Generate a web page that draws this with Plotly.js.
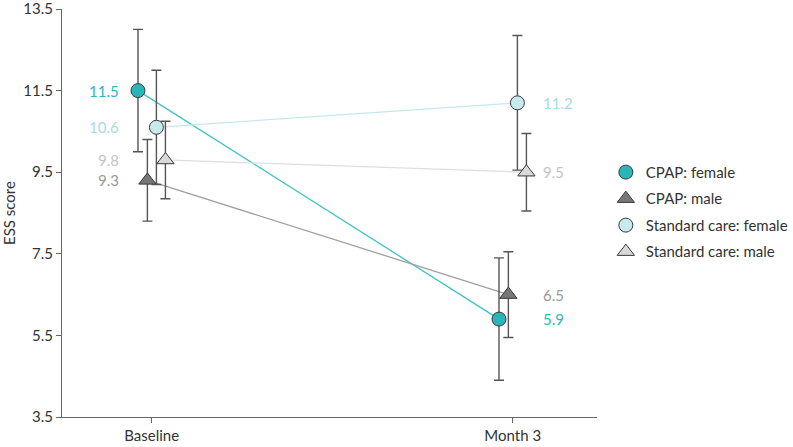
<!DOCTYPE html>
<html>
<head>
<meta charset="utf-8">
<script src="https://cdn.plot.ly/plotly-3.0.1.min.js"></script>
<style>html,body{margin:0;padding:0;background:#fff;}#chart{width:793px;height:447px;}</style>
</head>
<body>
<div id="chart"></div>
<script>
// ---- data ----
const categories = ['Baseline', 'Month 3'];
const groupNames = ['CPAP: female', 'CPAP: male', 'Standard care: female', 'Standard care: male'];
const cpapFemale = [11.5, 5.9];
const cpapFemaleErr = [1.5, 1.5];
const cpapMale = [9.3, 6.5];
const cpapMaleErr = [1.0, 1.05];
const stdFemale = [10.6, 11.2];
const stdFemaleErr = [1.4, 1.65];
const stdMale = [9.8, 9.5];
const stdMaleErr = [0.95, 0.95];
const yTicks = [3.5, 5.5, 7.5, 9.5, 11.5, 13.5];

// ---- styles ----
const series = [
  {name: groupNames[0], y: cpapFemale, err: cpapFemaleErr, symbol: 'circle', size: 14, fill: '#2ab5bb', line: '#3ec2c7', text: '#2ab7bf', off: -0.038},
  {name: groupNames[1], y: cpapMale, err: cpapMaleErr, symbol: 'triangle-up', size: 15, fill: '#77777b', line: '#a0a0a0', text: '#9a9a9a', off: -0.012},
  {name: groupNames[2], y: stdFemale, err: stdFemaleErr, symbol: 'circle', size: 14, fill: '#c8e9ee', line: '#c6e8ed', text: '#a6dce3', off: 0.013},
  {name: groupNames[3], y: stdMale, err: stdMaleErr, symbol: 'triangle-up', size: 15, fill: '#d9d9d9', line: '#dedede', text: '#c4c4c4', off: 0.038}
];
const FONT = 'Lato, Noto Sans, sans-serif';

const traces = [];
series.forEach(s => {
  const xs = categories.map((c, i) => i + s.off);
  traces.push({
    type: 'scatter', mode: 'lines', x: xs, y: s.y, showlegend: false, hoverinfo: 'skip',
    line: {color: s.line, width: 1.3}
  });
});
series.forEach((s, k) => {
  const xs = categories.map((c, i) => i + s.off);
  traces.push({
    type: 'scatter', mode: 'markers', name: s.name, x: xs, y: s.y,
    legendgroup: 'g' + k,
    error_y: {type: 'data', array: s.err, visible: true, color: '#555555', thickness: 1.4, width: 5},
    marker: {symbol: s.symbol, size: s.size, color: s.fill, line: {color: '#3a3a3a', width: 1}}
  });
});

const annotations = [];
series.forEach(s => {
  categories.forEach((c, i) => {
    annotations.push({
      xref: 'x', yref: 'y', x: i, y: s.y[i], text: s.y[i].toFixed(1), showarrow: false,
      xanchor: i === 0 ? 'right' : 'left', xshift: i === 0 ? -31 : 28,
      font: {family: FONT, size: 15, color: s.text}
    });
  });
});

const layout = {
  width: 793, height: 447,
  margin: {l: 62, r: 196, t: 9, b: 30},
  paper_bgcolor: '#ffffff', plot_bgcolor: '#ffffff',
  font: {family: FONT, size: 15, color: '#333333'},
  xaxis: {
    range: [-0.2485, 1.2335], tickvals: categories.map((c, i) => i), ticktext: categories,
    showgrid: false, zeroline: false, showline: true, linecolor: '#666666', linewidth: 1,
    ticks: 'outside', ticklen: 5, tickcolor: '#666666', tickfont: {family: FONT, size: 15, color: '#333'},
    ticklabeloverflow: 'allow', automargin: false
  },
  yaxis: {
    range: [3.5, 13.5], tickvals: yTicks, ticktext: yTicks.map(v => v.toFixed(1)),
    showgrid: false, zeroline: false, showline: true, linecolor: '#666666', linewidth: 1,
    ticks: 'outside', ticklen: 5, tickcolor: '#666666', tickfont: {family: FONT, size: 15, color: '#333'},
    ticklabeloverflow: 'allow', automargin: false,
    title: {text: 'ESS score', font: {family: FONT, size: 15, color: '#333'}, standoff: 8}
  },
  legend: {
    xref: 'container', yref: 'container',
    x: 0.764, xanchor: 'left', y: 0.526, yanchor: 'middle',
    font: {family: FONT, size: 15, color: '#333'}, tracegroupgap: 4, bgcolor: 'rgba(0,0,0,0)'
  },
  annotations: annotations,
  showlegend: true
};

Plotly.newPlot('chart', traces, layout, {displayModeBar: false, staticPlot: true});
</script>
</body>
</html>
